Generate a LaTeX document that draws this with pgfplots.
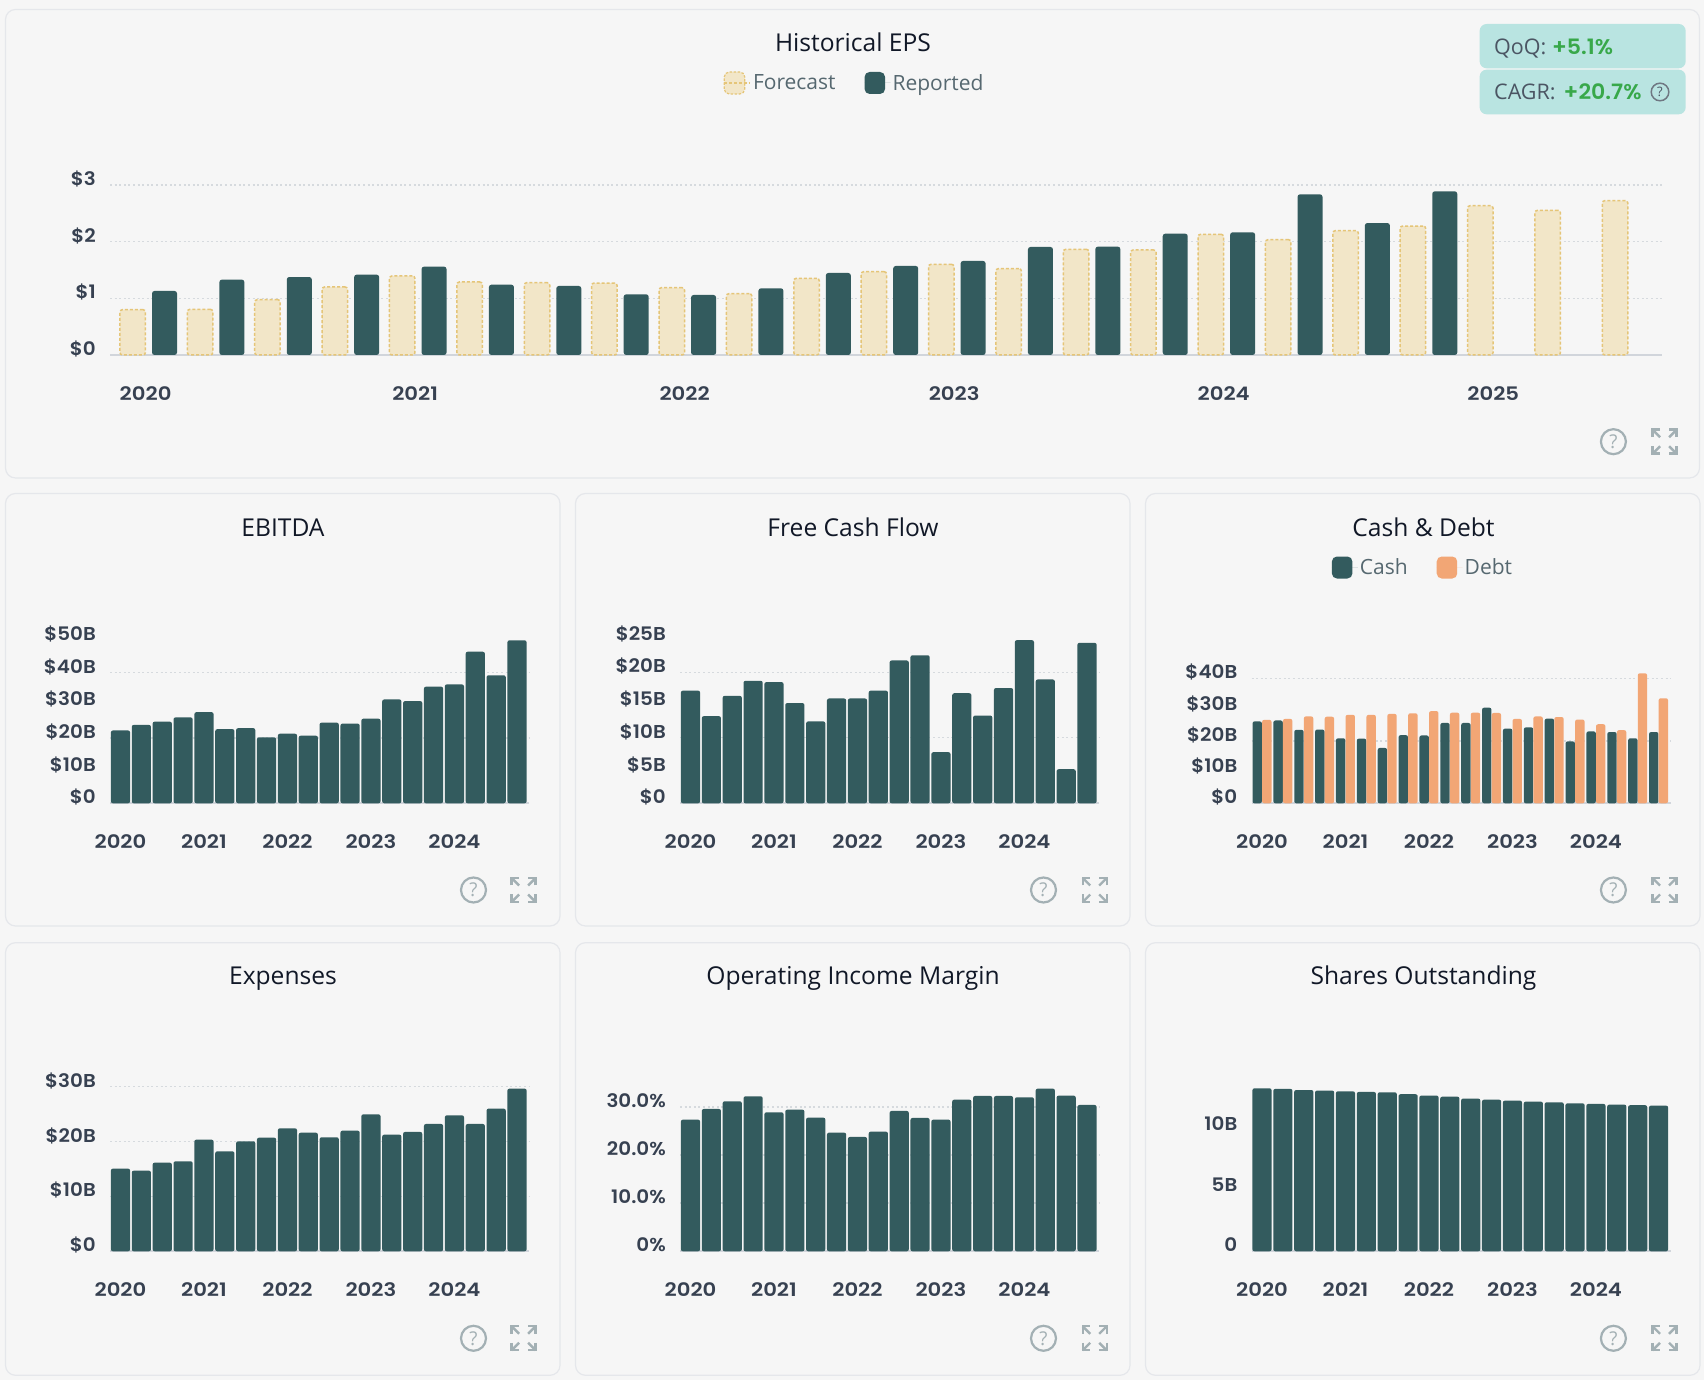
\documentclass[border=0pt]{standalone}
\usepackage{fontspec}
\usepackage{pgfplots}
\pgfplotsset{compat=1.18}
\setmainfont{Open Sans}
\newfontfamily\tickf{Poppins}[UprightFont=* SemiBold, FakeStretch=1.14]
\newfontfamily\ytickf{Poppins}[UprightFont=* SemiBold, FakeStretch=1.07]
\newfontfamily\valf{Poppins}[UprightFont=* SemiBold, FakeStretch=1.04]
\newfontfamily\titlef{Open Sans}
\definecolor{bg}{HTML}{F6F6F6}
\definecolor{border}{HTML}{E5E7EB}
\definecolor{barteal}{HTML}{335B5E}
\definecolor{fcfill}{HTML}{F2E6C8}
\definecolor{fcdash}{HTML}{E5C578}
\definecolor{debt}{HTML}{F2A675}
\definecolor{ticktxt}{HTML}{374151}
\definecolor{titletxt}{HTML}{111827}
\definecolor{legtxt}{HTML}{566870}
\definecolor{axisln}{HTML}{D1D5DB}
\definecolor{gridln}{HTML}{D6DADE}
\definecolor{icon}{HTML}{A3B0B4}
\definecolor{badge}{HTML}{B9E4E1}
\definecolor{badgetxt}{HTML}{4B5563}
\definecolor{upgreen}{HTML}{38A84A}
\pgfplotsset{
  base/.style={
    scale only axis, clip=false, enlargelimits=false,
    axis lines=left, axis line style={-},
    x axis line style={draw=axisln, line width=2pt},
    y axis line style={draw=none},
    ymin=0, major tick length=0pt,
    xtick style={draw=none}, ytick style={draw=none},
    xticklabel style={font=\tickf\fontsize{18.6}{19}\selectfont, text=ticktxt, anchor=base, yshift=-45.5pt, inner sep=0pt},
    yticklabel style={font=\ytickf\fontsize{18.6}{19}\selectfont, text=ticktxt, anchor=base east, xshift=-14pt, yshift=-0.6pt, inner sep=0pt},
    major grid style={draw=gridln, line width=1.4pt, dash pattern=on 2pt off 2.6pt},
    extra y tick style={grid=major, yticklabel style={opacity=0}},
    extra y tick labels={},
  },
  small/.style n args={3}{base,
    at={(#1pt,#2pt)}, anchor=south west,
    width=419pt, height=#3pt,
    xmin=-0.503, xmax=19.574,
    xtick={0,4,8,12,16}, xticklabels={2020,2021,2022,2023,2024},
  },
  solid bar/.style={ybar, bar width=19.2pt, bar shift=0pt, fill=barteal, draw=none, rounded corners=2pt},
  legfont/.style={font=\titlef\fontsize{21}{21}\selectfont, text=legtxt},
}
\newcommand\panel[4]{\draw[border, fill=bg, line width=1.2pt, rounded corners=10pt] (#1pt,#2pt) rectangle (#3pt,#4pt);}
\newcommand\ptitle[3]{\node[anchor=base, font=\titlef\fontsize{24.6}{24.6}\selectfont, text=titletxt, inner sep=0pt] at (#1pt,#2pt) {#3};}
\newcommand\helpicon[2]{%
  \draw[icon, line width=2.2pt] (#1pt,#2pt) circle (12.5pt);
  \node[font=\titlef\fontsize{19}{19}\selectfont, text=icon, inner sep=0pt] at (#1pt,#2pt) {?};}
\newcommand\expandicon[2]{%
  \begin{scope}[shift={(#1pt,#2pt)}, icon, line width=2.4pt]
  \foreach \sx/\sy in {1/1,1/-1,-1/1,-1/-1}{
    \draw (\sx*12pt,\sy*4.5pt) -- (\sx*12pt,\sy*12pt) -- (\sx*4.5pt,\sy*12pt);
    \draw (\sx*12pt,\sy*12pt) -- (\sx*4.5pt,\sy*4.5pt);
  }
  \end{scope}}
\begin{document}
\begin{tikzpicture}
\useasboundingbox (0pt,0pt) rectangle (1704pt,1380pt);
\fill[bg] (0pt,0pt) rectangle (1704pt,1380pt);
% panels
\panel{5.5}{1370.5}{1699.5}{902}
\panel{5.5}{886.5}{560}{454}
\panel{575.5}{886.5}{1130}{454}
\panel{1145.5}{886.5}{1700}{454}
\panel{5.5}{437.3}{560}{4.7}
\panel{575.5}{437.3}{1130}{4.7}
\panel{1145.5}{437.3}{1700}{4.7}
% titles
\ptitle{853}{1328.3}{Historical EPS}
\ptitle{283}{843.7}{EBITDA}
\ptitle{853}{843.7}{Free Cash Flow}
\ptitle{1423.5}{843.7}{Cash \& Debt}
\ptitle{283}{395}{Expenses}
\ptitle{853}{395}{Operating Income Margin}
\ptitle{1423.5}{395}{Shares Outstanding}
% icons
\helpicon{1613.4}{938.3}\expandicon{1664.6}{938.3}
\helpicon{473.5}{490}\expandicon{523.6}{490}
\helpicon{1043.5}{490}\expandicon{1094.7}{490}
\helpicon{1613.4}{490}\expandicon{1664.5}{490}
\helpicon{473.5}{41.7}\expandicon{523.6}{41.7}
\helpicon{1043.5}{41.7}\expandicon{1094.7}{41.7}
\helpicon{1613.4}{41.7}\expandicon{1664.5}{41.7}
% badges
\fill[badge, rounded corners=7pt] (1479.6pt,1356pt) rectangle (1685.7pt,1311.7pt);
\fill[badge, rounded corners=7pt] (1479.6pt,1310.3pt) rectangle (1685.7pt,1265.7pt);
\node[anchor=base west, inner sep=0pt, font=\titlef\fontsize{21.5}{21.5}\selectfont, text=badgetxt] at (1494pt,1325.7pt) {QoQ: \textcolor{upgreen}{\valf\fontsize{21.2}{21.2}\selectfont +5.1\%}};
\node[anchor=base west, inner sep=0pt, font=\titlef\fontsize{21.5}{21.5}\selectfont, text=badgetxt] at (1494pt,1280pt) {CAGR: \hspace{2.5pt}\textcolor{upgreen}{\valf\fontsize{21.2}{21.2}\selectfont +20.7\%}};
\draw[badgetxt!80, line width=1.5pt] (1660pt,1288pt) circle (8.8pt);
\node[font=\titlef\fontsize{13}{13}\selectfont, text=badgetxt, inner sep=0pt] at (1660pt,1288pt) {?};

% ---- Historical EPS
\begin{axis}[base, at={(110pt,1025pt)}, anchor=south west, width=1552pt, height=170pt,
  xmin=-0.573, xmax=22.46, ymax=3,
  xtick={0,4,8,12,16,20}, xticklabels={2020,2021,2022,2023,2024,2025},
  xticklabel style={xshift=-3pt},
  ytick={0,1,2,3}, yticklabels={\$0,\$1,\$2,\$3},
  extra y ticks={1,2,3},
  legend columns=2,
  legend style={at={(0.4797,1.6)}, anchor=center, draw=none, fill=none, legfont,
    /tikz/every even column/.append style={column sep=27pt}},
]
\addplot[ybar, bar width=25.5pt, bar shift=-15.9pt, fill=fcfill, draw=fcdash, line width=1.5pt, dash pattern=on 3pt off 2pt, rounded corners=2.5pt,
  legend image code/.code={\draw[fill=fcfill, draw=fcdash, line width=1.2pt, dash pattern=on 2.5pt off 1.5pt, rounded corners=5pt] (0pt,-11pt) rectangle (20.5pt,11pt); \path (0pt,0pt) -- (26pt,0pt);}]
 coordinates {(0,0.80)(1,0.806)(2,0.976)(3,1.20)(4,1.394)(5,1.288)(6,1.276)(7,1.27)(8,1.188)(9,1.082)(10,1.353)(11,1.47)(12,1.6)(13,1.524)(14,1.865)(15,1.853)(16,2.13)(17,2.035)(18,2.194)(19,2.276)(20,2.635)(21,2.553)(22,2.724)};
\addlegendentry{Forecast}
\addplot[ybar, bar width=25pt, bar shift=15.9pt, fill=barteal, draw=none, rounded corners=2.5pt,
  legend image code/.code={\fill[barteal, rounded corners=5pt] (0pt,-11pt) rectangle (20.5pt,11pt); \path (0pt,0pt) -- (26pt,0pt);}]
 coordinates {(0,1.13)(1,1.33)(2,1.376)(3,1.418)(4,1.559)(5,1.241)(6,1.218)(7,1.07)(8,1.059)(9,1.176)(10,1.447)(11,1.571)(12,1.659)(13,1.906)(14,1.912)(15,2.141)(16,2.165)(17,2.835)(18,2.329)(19,2.888)};
\addlegendentry{Reported}
\end{axis}

% ---- EBITDA
\begin{axis}[small={110}{576.7}{163.3}, ymax=50,
  ytick={0,10,...,50}, yticklabels={\$0,\$10B,\$20B,\$30B,\$40B,\$50B}, extra y ticks={20,40}]
\addplot[solid bar] coordinates {(0,22.3)(1,24.0)(2,25.0)(3,26.3)(4,27.9)(5,22.7)(6,23.0)(7,20.2)(8,21.3)(9,20.7)(10,24.7)(11,24.4)(12,25.9)(13,31.8)(14,31.3)(15,35.7)(16,36.4)(17,46.4)(18,39.2)(19,49.9)};
\end{axis}

% ---- FCF
\begin{axis}[small={680}{576.7}{163.75}, ymax=25,
  ytick={0,5,...,25}, yticklabels={\$0,\$5B,\$10B,\$15B,\$20B,\$25B}, extra y ticks={10,20}]
\addplot[solid bar] coordinates {(0,17.2)(1,13.3)(2,16.4)(3,18.7)(4,18.5)(5,15.3)(6,12.5)(7,16.0)(8,16.0)(9,17.2)(10,21.8)(11,22.6)(12,7.8)(13,16.8)(14,13.4)(15,17.6)(16,24.9)(17,18.9)(18,5.2)(19,24.5)};
\end{axis}

% ---- Cash & Debt
\begin{axis}[small={1251.5}{576.7}{140.6}, ymax=45,
  ytick={0,10,...,40}, yticklabels={\$0,\$10B,\$20B,\$30B,\$40B}, extra y ticks={20,40},
  legend columns=2,
  legend style={at={(0.4093,1.677)}, anchor=center, draw=none, fill=none, legfont,
    /tikz/every even column/.append style={column sep=27pt}},
]
\addplot[ybar, bar width=9.4pt, bar shift=-4.8pt, fill=barteal, draw=none, rounded corners=2pt,
  legend image code/.code={\fill[barteal, rounded corners=5pt] (0pt,-11pt) rectangle (20.5pt,11pt); \path (0pt,0pt) -- (26pt,0pt);}]
 coordinates {(0,26.2)(1,26.5)(2,23.5)(3,23.6)(4,20.8)(5,20.7)(6,17.7)(7,21.8)(8,21.7)(9,25.7)(10,25.7)(11,30.6)(12,23.9)(13,24.3)(14,27.1)(15,19.8)(16,23.0)(17,22.8)(18,20.8)(19,22.8)};
\addlegendentry{Cash}
\addplot[ybar, bar width=9.4pt, bar shift=4.8pt, fill=debt, draw=none, rounded corners=2pt,
  legend image code/.code={\fill[debt, rounded corners=5pt] (0pt,-11pt) rectangle (20.5pt,11pt); \path (0pt,0pt) -- (26pt,0pt);}]
 coordinates {(0,26.7)(1,27.0)(2,27.8)(3,27.7)(4,28.3)(5,28.3)(6,28.6)(7,28.8)(8,29.5)(9,29.0)(10,29.0)(11,28.9)(12,27.0)(13,27.8)(14,27.6)(15,26.8)(16,25.3)(17,23.4)(18,41.6)(19,33.6)};
\addlegendentry{Debt}
\end{axis}

% ---- Expenses
\begin{axis}[small={110}{128.7}{164.7}, ymax=30,
  ytick={0,10,20,30}, yticklabels={\$0,\$10B,\$20B,\$30B}, extra y ticks={10,20,30}]
\addplot[solid bar] coordinates {(0,15.06)(1,14.69)(2,16.15)(3,16.39)(4,20.34)(5,18.21)(6,20.04)(7,20.7)(8,22.4)(9,21.6)(10,20.77)(11,21.98)(12,24.95)(13,21.25)(14,21.74)(15,23.19)(16,24.77)(17,23.19)(18,25.99)(19,29.63)};
\end{axis}

% ---- Margin
\begin{axis}[small={680}{128.7}{168.35}, ymax=35,
  ytick={0,10,20,30}, yticklabels={0\%,10.0\%,20.0\%,30.0\%}, extra y ticks={10,20,30}]
\addplot[solid bar] coordinates {(0,27.37)(1,29.59)(2,31.19)(3,32.22)(4,28.9)(5,29.45)(6,27.79)(7,24.67)(8,23.77)(9,24.88)(10,29.18)(11,27.72)(12,27.37)(13,31.53)(14,32.29)(15,32.29)(16,32.02)(17,33.82)(18,32.36)(19,30.42)};
\end{axis}

% ---- Shares
\begin{axis}[small={1251.5}{128.7}{181.5}, ymax=15,
  ytick={0,5,10}, yticklabels={0,5B,10B}]
\addplot[solid bar] coordinates {(0,13.47)(1,13.42)(2,13.33)(3,13.28)(4,13.22)(5,13.17)(6,13.14)(7,12.98)(8,12.87)(9,12.78)(10,12.62)(11,12.53)(12,12.45)(13,12.37)(14,12.31)(15,12.23)(16,12.18)(17,12.12)(18,12.07)(19,12.04)};
\end{axis}
\end{tikzpicture}
\end{document}
